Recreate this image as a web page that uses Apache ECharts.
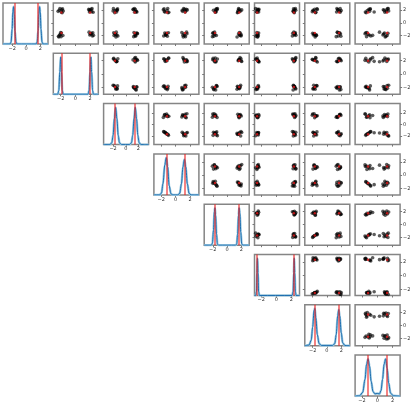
<!DOCTYPE html>
<html>
<head>
<meta charset="utf-8">
<script src="https://cdn.jsdelivr.net/npm/echarts@6/dist/echarts.min.js"></script>
<style>html,body{margin:0;padding:0;background:#fff}#main{width:412px;height:412px}</style>
</head>
<body>
<div id="main"></div>
<script>
// axis ranges for every parameter
var axisMin = [-3.3, -3.0, -3.5, -3.0, -3.2, -2.9, -3.1, -2.9];
var axisMax = [3.1, 3.1, 3.6, 3.2, 3.1, 3.1, 3.2, 3.0];
var tickValues = [-2, 0, 2];

// true values (red lines / red dots)
var truthLow = [-1.6, -1.9, -1.7, -1.2, -1.7, -2.55, -1.7, -1.2];
var truthHigh = [1.6, 2.0, 1.4, 1.3, 1.7, 2.35, 1.7, 1.3];

// posterior samples, one list per parameter
var samp0 = [-1.82, 2.18, -1.55, 1.70, -2.10, 2.05, -1.62, 1.65, -1.98, 1.98, -1.45, 2.22, -2.15, 1.80, -1.70, 2.10,
             -1.90, 1.58, -2.05, 1.92, -1.60, 2.25, -1.88, 1.75, -2.20, 1.85, -1.75, 2.02, -1.52, 1.68, -1.95, 2.12];
var samp1 = [-2.05, -1.75, 2.35, 1.90, -2.30, -1.85, 2.15, 2.40, -1.70, -2.20, 1.85, 2.25, -1.95, -2.35, 2.05, 1.80,
             -2.15, -1.80, 2.30, 2.00, -1.90, -2.10, 1.95, 2.20, -2.25, -1.65, 2.10, 1.88, -2.00, -1.92, 2.45, 2.12];
var samp2 = [-1.60, -1.30, -1.90, -1.45, 1.55, 1.20, 1.80, 1.40, -1.85, -1.35, -1.50, -1.95, 1.25, 1.65, 1.85, 1.50,
             -1.40, -1.75, -1.25, -1.65, 1.70, 1.35, 1.45, 1.60, -1.55, -2.00, -1.70, -1.40, 1.30, 1.75, 1.55, 1.15];
var samp3 = [-1.30, -1.60, -1.00, -1.45, -1.15, -1.70, -1.25, -0.95, 1.25, 0.90, 1.50, 1.10, 1.35, 0.95, 1.55, 1.20,
             -1.40, -1.05, -1.65, -1.20, -1.50, -1.10, -1.35, -1.55, 1.05, 1.40, 1.15, 1.60, 0.85, 1.30, 1.00, 1.45];
var samp4 = [-1.70, -1.45, -1.95, -1.55, -1.85, -1.40, -2.00, -1.65, -1.50, -1.90, -1.75, -1.35, -2.05, -1.60, -1.80, -1.58,
             1.75, 1.45, 1.95, 1.55, 1.85, 1.62, 2.00, 1.70, 1.40, 1.90, 1.60, 2.05, 1.72, 1.50, 1.82, 1.68];
var samp5 = [-2.50, 2.30, 2.55, -2.35, -2.70, 2.45, 2.20, -2.55, -2.40, 2.60, 2.35, -2.75, -2.45, 2.25, 2.50, -2.30,
             -2.60, 2.40, 2.15, -2.45, -2.35, 2.55, 2.42, -2.65, -2.52, 2.28, 2.48, -2.40, -2.58, 2.38, 2.62, -2.48];
var samp6 = [-1.75, -1.40, 1.70, 1.35, 1.95, 1.50, -2.00, -1.55, -1.45, -1.95, 1.45, 1.85, 1.30, 1.75, -1.80, -1.35,
             -1.90, -1.60, 1.60, 2.00, 1.80, 1.40, -1.50, -2.05, -1.65, -1.85, 1.90, 1.55, 1.48, 1.88, -1.58, -1.72];
var samp7 = [-1.20, -0.90, -1.50, -0.40, 1.15, 0.80, 1.40, 1.00, 1.30, 0.90, 0.30, 1.45, -1.40, -1.00, -1.60, -1.10,
             -1.05, -1.45, -0.85, -1.30, 0.95, 1.35, 0.75, 1.20, 1.05, 1.50, 0.85, 1.25, -1.35, -1.55, -0.60, -0.95];

// marginal densities (x, density) for the diagonal
var dens0 = [[-3.3,0],[-2.3,0],[-2.15,0.05],[-2.0,0.4],[-1.9,0.85],[-1.8,1.0],[-1.7,0.8],[-1.6,0.35],[-1.45,0.05],[-1.3,0],
             [1.4,0],[1.55,0.05],[1.7,0.35],[1.8,0.8],[1.9,1.0],[2.0,0.85],[2.1,0.4],[2.25,0.05],[2.4,0],[3.1,0]];
var dens1 = [[-3,0],[-2.4,0],[-2.25,0.1],[-2.12,0.6],[-2.0,1.0],[-1.9,0.6],[-1.78,0.1],[-1.65,0],
             [1.7,0],[1.85,0.1],[1.98,0.6],[2.1,1.0],[2.2,0.6],[2.32,0.1],[2.45,0],[3.1,0]];
var dens2 = [[-3.5,0],[-2.5,0],[-2.2,0.05],[-2.0,0.25],[-1.8,0.7],[-1.6,1.0],[-1.4,0.7],[-1.2,0.25],[-1.0,0.05],[-0.7,0],
             [0.6,0],[0.9,0.05],[1.1,0.25],[1.3,0.7],[1.5,1.0],[1.7,0.7],[1.9,0.25],[2.1,0.05],[2.4,0],[3.6,0]];
var dens3 = [[-3,0],[-2.2,0],[-1.95,0.05],[-1.75,0.3],[-1.5,0.8],[-1.3,1.0],[-1.1,0.75],[-0.9,0.25],[-0.65,0.03],[-0.4,0],
             [0.3,0],[0.55,0.04],[0.8,0.3],[1.0,0.75],[1.2,0.95],[1.4,0.75],[1.6,0.3],[1.85,0.04],[2.1,0],[3.2,0]];
var dens4 = [[-3.2,0],[-2.2,0],[-2.05,0.05],[-1.9,0.4],[-1.78,0.9],[-1.7,1.0],[-1.6,0.8],[-1.48,0.3],[-1.35,0.03],[-1.2,0],
             [1.2,0],[1.35,0.03],[1.48,0.3],[1.6,0.8],[1.7,1.0],[1.8,0.85],[1.92,0.35],[2.05,0.04],[2.2,0],[3.1,0]];
var dens5 = [[-2.9,0],[-2.75,0],[-2.65,0.1],[-2.57,0.6],[-2.5,1.0],[-2.43,0.6],[-2.35,0.1],[-2.25,0],
             [2.1,0],[2.25,0.1],[2.33,0.6],[2.4,1.0],[2.47,0.6],[2.55,0.1],[2.65,0],[3.1,0]];
var dens6 = [[-3.1,0],[-2.5,0.02],[-2.2,0.15],[-2.0,0.5],[-1.8,0.95],[-1.7,1.0],[-1.55,0.75],[-1.35,0.3],[-1.1,0.06],[-0.8,0.01],
             [0.8,0.01],[1.1,0.06],[1.3,0.3],[1.5,0.8],[1.65,0.97],[1.8,0.8],[2.0,0.35],[2.2,0.08],[2.5,0.01],[3.2,0]];
var dens7 = [[-2.9,0],[-2.3,0.01],[-1.9,0.1],[-1.6,0.45],[-1.4,0.85],[-1.2,1.0],[-1.0,0.8],[-0.8,0.4],[-0.55,0.12],[-0.3,0.06],
             [0,0.07],[0.3,0.06],[0.5,0.15],[0.7,0.45],[0.9,0.85],[1.1,1.0],[1.3,0.75],[1.5,0.35],[1.75,0.08],[2.1,0.01],[3.0,0]];

var samples = [samp0, samp1, samp2, samp3, samp4, samp5, samp6, samp7];
var densities = [dens0, dens1, dens2, dens3, dens4, dens5, dens6, dens7];
var nVar = samples.length;

// panel layout
var STEP = 50.3, W = 45, H = 41, X0 = 3, Y0 = 3;

function fmt(v) {
  return v < 0 ? '\u2212' + (-v) : String(v);
}

var grids = [], xAxes = [], yAxes = [], series = [];

for (var i = 0; i < nVar; i++) {
  for (var j = i; j < nVar; j++) {
    var g = grids.length;
    grids.push({
      left: X0 + j * STEP, top: Y0 + i * STEP, width: W, height: H,
      show: true, borderColor: '#858585', borderWidth: 1.5, backgroundColor: '#fff',
      containLabel: false, outerBoundsMode: 'none'
    });
    var tickStyle = {show: true, inside: false, length: 2, customValues: tickValues, lineStyle: {color: '#777', width: 1}};
    var noLine = {show: false, onZero: false};
    if (i === j) {
      xAxes.push({
        gridIndex: g, type: 'value', min: axisMin[j], max: axisMax[j], position: 'bottom',
        splitLine: {show: false}, axisLine: noLine, axisTick: tickStyle,
        axisLabel: {show: true, customValues: tickValues, formatter: fmt, fontSize: 5, margin: 2, color: '#333', fontFamily: 'DejaVu Sans'}
      });
      yAxes.push({gridIndex: g, type: 'value', min: 0, max: 1.1, show: false});
      series.push({
        type: 'line', xAxisIndex: g, yAxisIndex: g, data: densities[j],
        smooth: 0.3, smoothMonotone: 'x', showSymbol: false, silent: true,
        lineStyle: {color: '#9ecae1', width: 2.4}
      });
      series.push({
        type: 'line', xAxisIndex: g, yAxisIndex: g, data: densities[j],
        smooth: 0.3, smoothMonotone: 'x', showSymbol: false, silent: true,
        lineStyle: {color: '#1f6fb0', width: 1},
        markLine: {
          silent: true, symbol: 'none', label: {show: false},
          lineStyle: {color: 'rgba(235,35,35,0.75)', width: 1.5, type: 'solid'},
          data: [{xAxis: truthLow[j]}, {xAxis: truthHigh[j]}]
        }
      });
    } else {
      xAxes.push({
        gridIndex: g, type: 'value', min: axisMin[j], max: axisMax[j], position: 'bottom',
        splitLine: {show: false}, axisLine: noLine, axisTick: tickStyle,
        axisLabel: {show: false}
      });
      var last = (j === nVar - 1);
      yAxes.push({
        gridIndex: g, type: 'value', min: axisMin[i], max: axisMax[i],
        position: last ? 'right' : 'left',
        splitLine: {show: false}, axisLine: noLine, axisTick: tickStyle,
        axisLabel: {show: last, customValues: tickValues, formatter: fmt, fontSize: 5, margin: 3, color: '#333', fontFamily: 'DejaVu Sans'}
      });
      var pts = [];
      for (var k = 0; k < samples[i].length; k++) {
        pts.push([samples[j][k], samples[i][k]]);
      }
      series.push({
        type: 'scatter', xAxisIndex: g, yAxisIndex: g, data: pts, silent: true,
        symbolSize: 3.6, itemStyle: {color: 'rgba(0,0,0,0.8)'}
      });
      series.push({
        type: 'scatter', xAxisIndex: g, yAxisIndex: g, silent: true, symbolSize: 2.5, z: 3,
        itemStyle: {color: '#e41a1c'},
        data: [[truthLow[j], truthLow[i]], [truthLow[j], truthHigh[i]],
               [truthHigh[j], truthLow[i]], [truthHigh[j], truthHigh[i]]]
      });
    }
  }
}

var chart = echarts.init(document.getElementById('main'), null, {renderer: 'canvas'});
chart.setOption({
  animation: false,
  backgroundColor: '#fff',
  grid: grids,
  xAxis: xAxes,
  yAxis: yAxes,
  series: series
});
</script>
</body>
</html>
